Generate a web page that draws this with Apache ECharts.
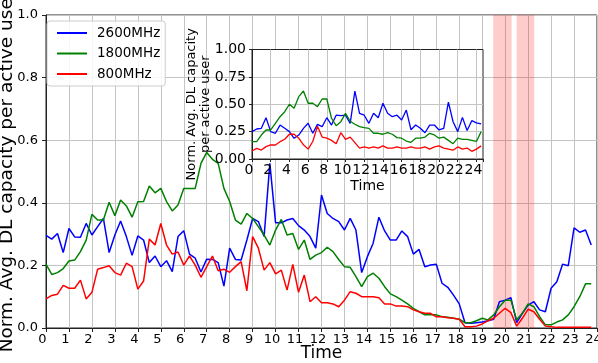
<!DOCTYPE html>
<html><head><meta charset="utf-8">
<script src="https://cdn.jsdelivr.net/npm/echarts@6/dist/echarts.min.js"></script>
<style>html,body{margin:0;padding:0;background:#fff}#c{width:598px;height:363px}</style>
</head><body><div id="c"></div>
<script>
// ---- Main chart data (15-min resolution, hours 0 .. 23.75) ----
const MAIN_STEP = 0.25;
const main2600 = [0.296,0.284,0.302,0.241,0.318,0.291,0.290,0.334,0.297,0.324,0.350,0.241,0.297,0.342,0.292,0.232,
0.294,0.281,0.209,0.230,0.196,0.215,0.180,0.292,0.311,0.236,0.223,0.179,0.220,0.219,0.209,0.134,
0.255,0.219,0.217,0.281,0.350,0.340,0.292,0.526,0.336,0.336,0.345,0.350,0.327,0.313,0.292,0.255,
0.425,0.366,0.350,0.340,0.313,0.350,0.313,0.177,0.228,0.271,0.354,0.310,0.281,0.281,0.310,0.292,
0.236,0.251,0.196,0.201,0.204,0.143,0.130,0.105,0.077,0.017,0.015,0.017,0.019,0.023,0.028,0.084,
0.089,0.097,0.017,0.047,0.073,0.084,0.058,0.052,0.127,0.148,0.204,0.199,0.320,0.306,0.313,0.265];
const main1800 = [0.204,0.171,0.177,0.190,0.214,0.217,0.244,0.281,0.363,0.345,0.345,0.402,0.359,0.409,0.390,0.354,
0.403,0.404,0.454,0.432,0.446,0.404,0.374,0.393,0.446,0.446,0.446,0.526,0.561,0.539,0.526,0.446,
0.404,0.345,0.332,0.366,0.350,0.324,0.297,0.265,0.313,0.347,0.297,0.302,0.251,0.281,0.219,0.233,
0.241,0.258,0.244,0.219,0.196,0.194,0.164,0.132,0.164,0.175,0.159,0.132,0.109,0.100,0.089,0.077,
0.063,0.052,0.042,0.042,0.042,0.036,0.034,0.031,0.028,0.017,0.017,0.023,0.031,0.026,0.042,0.068,
0.089,0.089,0.026,0.047,0.077,0.068,0.036,0.010,0.010,0.019,0.026,0.042,0.068,0.100,0.141,0.141];
const main800 = [0.093,0.104,0.108,0.136,0.127,0.127,0.153,0.093,0.114,0.188,0.193,0.199,0.177,0.169,0.207,0.196,
0.124,0.150,0.284,0.265,0.334,0.265,0.236,0.243,0.201,0.230,0.201,0.162,0.196,0.230,0.183,0.188,
0.178,0.196,0.212,0.119,0.292,0.255,0.185,0.209,0.173,0.185,0.121,0.203,0.114,0.169,0.084,0.100,
0.081,0.081,0.077,0.068,0.089,0.116,0.111,0.100,0.100,0.100,0.097,0.077,0.077,0.070,0.070,0.068,
0.058,0.052,0.047,0.047,0.036,0.036,0.033,0.031,0.028,0.004,0.004,0.006,0.013,0.023,0.031,0.047,
0.063,0.049,0.006,0.031,0.060,0.052,0.028,0.006,0.004,0.002,0.002,0.002,0.002,0.002,0.002,0.002];

// ---- Inset data (30-min resolution, hours 0 .. 24.5) ----
const INSET_STEP = 0.5;
const inset2600 = [0.25,0.274,0.28,0.377,0.25,0.235,0.31,0.28,0.25,0.189,0.219,0.28,0.326,0.235,0.316,0.295,
0.377,0.31,0.40,0.396,0.40,0.326,0.62,0.417,0.40,0.326,0.417,0.377,0.509,0.417,0.386,0.40,
0.356,0.447,0.267,0.31,0.28,0.24,0.31,0.31,0.265,0.28,0.52,0.34,0.25,0.38,0.26,0.35,0.33,0.32];
const inset1800 = [0.158,0.158,0.219,0.265,0.265,0.326,0.386,0.432,0.50,0.463,0.569,0.621,0.509,0.509,0.478,0.548,
0.548,0.372,0.304,0.341,0.417,0.345,0.317,0.295,0.286,0.28,0.235,0.235,0.226,0.24,0.226,0.195,
0.19,0.164,0.152,0.19,0.19,0.20,0.235,0.22,0.19,0.20,0.17,0.14,0.19,0.18,0.18,0.17,0.16,0.25];
const inset800 = [0.073,0.097,0.082,0.113,0.128,0.128,0.158,0.18,0.226,0.226,0.19,0.13,0.09,0.16,0.30,0.20,
0.19,0.17,0.14,0.24,0.18,0.20,0.15,0.10,0.11,0.10,0.11,0.10,0.12,0.10,0.10,0.11,
0.10,0.10,0.11,0.10,0.10,0.11,0.09,0.11,0.12,0.10,0.09,0.08,0.11,0.09,0.10,0.07,0.09,0.12];

// ---- Labels / categories ----
const seriesNames = ['2600MHz', '1800MHz', '800MHz'];
const seriesColors = ['#0000ff', '#008000', '#ff0000'];
const shadedRanges = [[19.48, 20.28], [20.5, 21.27]];
const mainYName = 'Norm. Avg. DL capacity per active user';
const insetYName = 'Norm. Avg. DL capacity\nper active user';
const xName = 'Time';

const FONT = 'DejaVu Sans';
const toPairs = (vals, step) => vals.map((v, i) => [i * step, v]);
const mainData = [main2600, main1800, main800];
const insetData = [inset2600, inset1800, inset800];
const GRID_C = '#c4c4c4';

const chart = echarts.init(document.getElementById('c'), null, {renderer: 'canvas'});
const series = [];
series.push({
  type: 'line', xAxisIndex: 0, yAxisIndex: 0, data: [], z: 2, silent: true,
  markArea: {silent: true, itemStyle: {color: 'rgba(255,0,0,0.2)'},
    data: shadedRanges.map(r => [{xAxis: r[0]}, {xAxis: r[1]}])}
});
mainData.forEach((d, k) => series.push({
  name: seriesNames[k], type: 'line', xAxisIndex: 0, yAxisIndex: 0, z: 3,
  data: toPairs(d, MAIN_STEP), showSymbol: false, symbol: 'none',
  lineStyle: {color: seriesColors[k], width: 1.5}, itemStyle: {color: seriesColors[k]}
}));
insetData.forEach((d, k) => series.push({
  name: seriesNames[k], type: 'line', xAxisIndex: 1, yAxisIndex: 1, z: 13,
  data: toPairs(d, INSET_STEP), showSymbol: false, symbol: 'none',
  lineStyle: {color: seriesColors[k], width: 1.3}, itemStyle: {color: seriesColors[k]}
}));

const mainSplit = {show: true, lineStyle: {color: GRID_C, width: 1, type: 'solid'}};

chart.setOption({
  animation: false,
  textStyle: {fontFamily: FONT, color: '#000'},
  grid: [
    {left: 46, right: 1, top: 15, bottom: 35, show: true, borderColor: '#222', borderWidth: 1, z: 0,
     containLabel: false, outerBoundsMode: 'none'},
    {left: 252, top: 49.5, width: 231, height: 109.5, show: true, borderColor: '#222', borderWidth: 1, backgroundColor: '#fff', z: 10,
     containLabel: false, outerBoundsMode: 'none'}
  ],
  legend: {
    data: seriesNames, orient: 'vertical', left: 47, top: 21, z: 20,
    padding: [5, 5, 5, 10], itemGap: 6.5, itemWidth: 30, itemHeight: 2,
    icon: 'path://M0,0L30,0L30,2L0,2Z',
    borderColor: '#cccccc', borderWidth: 1, borderRadius: 3,
    backgroundColor: 'rgba(255,255,255,0.85)',
    textStyle: {fontFamily: FONT, fontSize: 13.5, color: '#000', lineHeight: 13, padding: [0, 0, 0, 5]}
  },
  xAxis: [
    {gridIndex: 0, type: 'value', min: 0, max: 24, interval: 1, z: 1,
     axisLine: {show: true, lineStyle: {color: '#222'}},
     axisTick: {show: true, length: 4, lineStyle: {color: '#222'}},
     splitLine: mainSplit,
     axisLabel: {fontFamily: FONT, fontSize: 13, color: '#000', margin: 5, padding: [0, 7, 0, 0]},
     name: xName, nameLocation: 'middle', nameGap: 17, nameMoveOverlap: false,
     nameTextStyle: {fontFamily: FONT, fontSize: 17, color: '#000'}},
    {gridIndex: 1, type: 'value', min: 0, max: 24.7, interval: 2, z: 11,
     axisLine: {show: true, lineStyle: {color: '#222'}},
     axisTick: {show: true, length: 3, lineStyle: {color: '#222'}},
     splitLine: {show: true, showMinLine: false, showMaxLine: false, lineStyle: {color: GRID_C, width: 1}},
     axisLabel: {fontFamily: FONT, fontSize: 14, color: '#000', margin: 4, padding: [0, 6, 0, 0],
       formatter: v => (Math.abs(v - Math.round(v)) < 1e-9 && Math.round(v) % 2 === 0) ? String(Math.round(v)) : ''},
     name: xName, nameLocation: 'middle', nameGap: 20, nameMoveOverlap: false,
     nameTextStyle: {fontFamily: FONT, fontSize: 14, color: '#000'}}
  ],
  yAxis: [
    {gridIndex: 0, type: 'value', min: 0, max: 1, interval: 0.2, z: 1,
     axisLine: {show: true, lineStyle: {color: '#222'}},
     axisTick: {show: true, length: 4, lineStyle: {color: '#222'}},
     splitLine: mainSplit,
     axisLabel: {fontFamily: FONT, fontSize: 13, color: '#000', margin: 8, formatter: v => v.toFixed(1)},
     name: mainYName, nameLocation: 'middle', nameGap: 29, nameMoveOverlap: false,
     nameTextStyle: {fontFamily: FONT, fontSize: 18.5, color: '#000'}},
    {gridIndex: 1, type: 'value', min: 0, max: 1, interval: 0.25, z: 11,
     axisLine: {show: true, lineStyle: {color: '#222'}},
     axisTick: {show: true, length: 3, lineStyle: {color: '#222'}},
     splitLine: {show: true, showMinLine: false, showMaxLine: false, lineStyle: {color: GRID_C, width: 1}},
     axisLabel: {fontFamily: FONT, fontSize: 14, color: '#000', margin: 6, formatter: v => v.toFixed(2)},
     name: insetYName, nameLocation: 'middle', nameGap: 39, nameMoveOverlap: false,
     nameTextStyle: {fontFamily: FONT, fontSize: 13, color: '#000', lineHeight: 14, align: 'center'}}
  ],
  series: series
});
</script>
</body></html>
